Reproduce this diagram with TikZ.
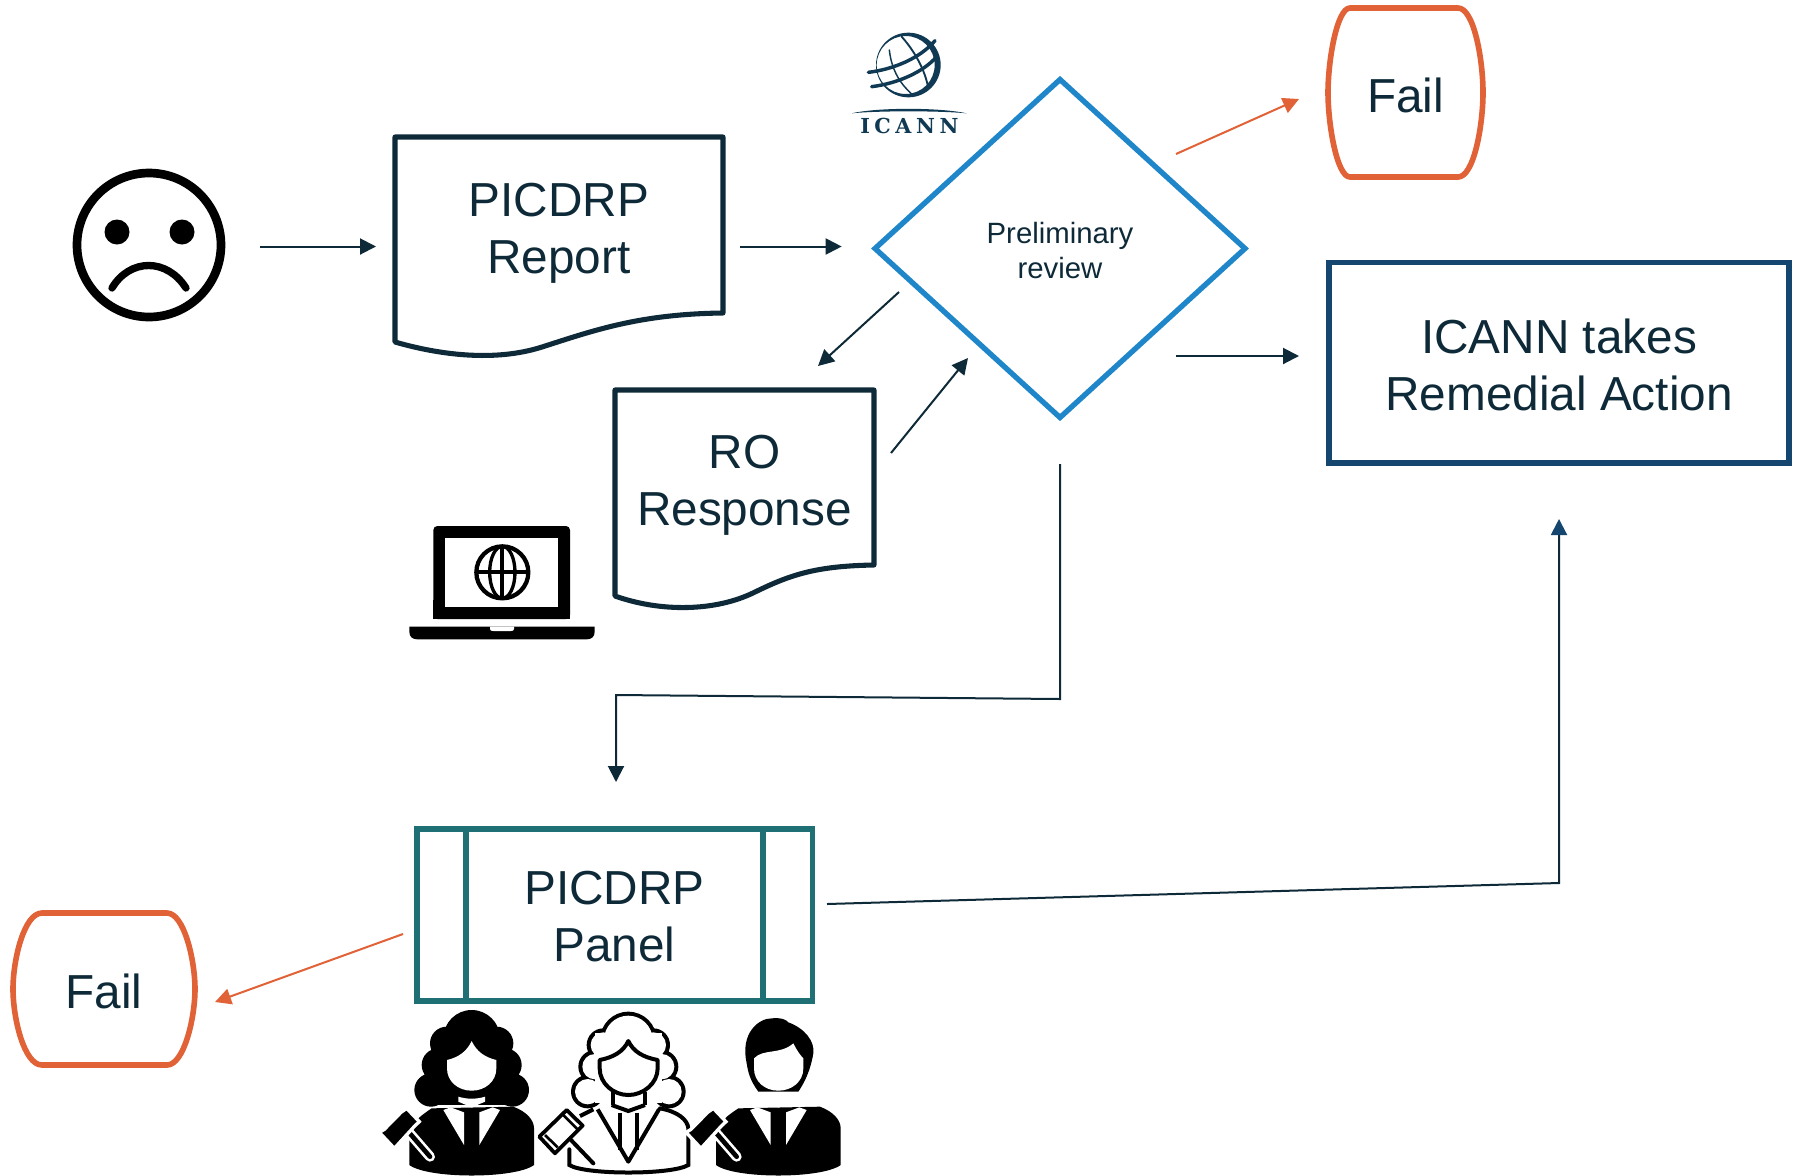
\documentclass[tikz,border=0pt]{standalone}
\usepackage{fontspec}
\setmainfont{Liberation Sans}
\newfontfamily\icannfont[LetterSpace=22]{DejaVu Serif}
\usetikzlibrary{arrows.meta,shapes.geometric,calc}
\definecolor{inkdark}{HTML}{0E2A38}
\definecolor{failorange}{HTML}{E06236}
\definecolor{diamondblue}{HTML}{1F87C9}
\definecolor{navybox}{HTML}{14466F}
\definecolor{panelteal}{HTML}{1F7075}
\definecolor{globeblue}{HTML}{103A54}
\newcommand\bigtext{\fontsize{35.8}{42.8}\selectfont}
\newcommand\raisedlines[3]{\raisebox{#1}[0pt][0pt]{\begin{tabular}{@{}c@{}}#2\\#3\end{tabular}}}
% judge parts, local x relative to the axis, y in zoomed px
\newcommand\curlset[1]{%
  \fill[#1] (0,175+\hs) circle[radius=85-\hd]
   (-75,190+\hs) circle[radius=50-\hd] (75,190+\hs) circle[radius=50-\hd]
   (-100,255+\hs) circle[radius=50-\hd] (100,255+\hs) circle[radius=50-\hd]
   (-122,330+\hs) circle[radius=50-\hd] (122,330+\hs) circle[radius=50-\hd];}
\newcommand\facepath{(-74,240) .. controls (-40,232) and (-15,215) .. (0,183) .. controls (15,215) and (40,232) .. (74,240) -- (74,265) .. controls (74,305) and (40,332) .. (0,332) .. controls (-40,332) and (-74,305) .. (-74,265) -- cycle}
\newcommand\bodypath{(-187,555) -- (-187,470) .. controls (-187,430) and (-150,405) .. (-120,385) -- (125,380) .. controls (165,395) and (187,420) .. (187,445) -- (187,555) .. controls (130,597) and (-130,597) .. (-187,555) -- cycle}
\newcommand\lapels{\fill[white] (-85,390) -- (-63,382) -- (-23,397) -- (-23,495) -- cycle (85,390) -- (63,382) -- (23,397) -- (23,495) -- cycle;
  \fill[white] (-40,350) .. controls (-15,358) and (15,358) .. (40,350) -- (40,365) -- (0,382) -- (-40,365) -- cycle;}
\newcommand\solidgavel{%
  \draw[white,line width=7.5pt,line cap=round] (-190,455) -- (-125,530);
  \draw[black,line width=3.5pt,line cap=round] (-190,455) -- (-125,530);
  \draw[white,line width=2.5pt,fill=black,line join=miter] (-212,397) -- (-195,385) -- (-157,425) -- (-170,437) -- (-232,505) -- (-277,457) -- (-262,448) -- cycle;}
\begin{document}
\begin{tikzpicture}[x=0.75pt,y=-0.75pt,
  flow/.style={line width=1.5pt,inkdark,-{Triangle[length=12pt,width=12pt]}},
  flowred/.style={line width=1.5pt,failorange,-{Triangle[length=12pt,width=12pt]}},
  flownavy/.style={line width=1.5pt,inkdark,-{Triangle[length=12pt,width=12pt,color=navybox,fill=navybox]}},
  bigbox/.style={rectangle,inner sep=0pt,outer sep=0pt,align=center,text=inkdark,font=\bigtext},
  docline/.style={line width=3.8pt,inkdark,line join=round},
  failline/.style={line width=4.2pt,failorange,line join=round}]
\fill[white] (0,0) rectangle (1801,1175);
\useasboundingbox (0,0) rectangle (1801,1175);

% sad face
\node[circle,draw=black,line width=6.5pt,minimum size=108pt,inner sep=0pt,outer sep=0pt] (face) at (149,245) {};
\fill[black] (117,232) circle[radius=12.5] (182,232) circle[radius=12.5];
\draw[black,line width=5.5pt,line cap=round] (112,288) .. controls (130,258) and (167,258) .. (186,288);

% PICDRP report
\node[bigbox,minimum width=247.5pt,minimum height=164pt] (report) at (559,246.5) {\raisedlines{3.8pt}{PICDRP}{Report}};
\draw[docline] (723,313) -- (723,137) -- (395,137) -- (395,342) .. controls (440,355) and (495,362) .. (542,347) .. controls (595,330) and (640,314) .. (723,313) -- cycle;

% Preliminary review
\node[diamond,draw=diamondblue,line width=4pt,aspect=1.094,minimum width=277.5pt,minimum height=253.5pt,inner sep=0pt,outer sep=0pt,align=center,text=inkdark,font=\fontsize{22}{26}\selectfont] (review) at (1060,248.5) {\raisedlines{-9.4pt}{Preliminary}{review}};

% ICANN logo
\begin{scope}[shift={(830,0)},x=.25pt,y=-.25pt]
\fill[globeblue,even odd rule] (235,195) circle[radius=97] (227,195) circle[radius=87];
\draw[globeblue,line width=2.6pt,line cap=round] (115,217) .. controls (190,208) and (270,175) .. (315,122);
\draw[globeblue,line width=2.6pt,line cap=round] (125,260) .. controls (205,250) and (280,215) .. (318,172);
\draw[globeblue,line width=1.1pt,line cap=round] (178,150) .. controls (185,215) and (215,255) .. (245,282);
\draw[globeblue,line width=1.4pt,line cap=round] (215,110) .. controls (255,155) and (285,210) .. (295,265);
\fill[globeblue] (65,340) .. controls (140,322) and (330,322) .. (410,340) .. controls (330,332) and (140,332) .. (65,340) -- cycle;
\node[inner sep=0pt,text=globeblue] (icannlogo) at (238,378) {\icannfont\bfseries\fontsize{15.5}{16}\selectfont ICANN};
\end{scope}

% Fail top
\node[bigbox,minimum width=116pt,minimum height=127pt] (failtop) at (1405.5,95) {Fail};
\draw[failline] (1350,8) -- (1458,8) .. controls (1474,8) and (1483,60) .. (1483,92.5) .. controls (1483,125) and (1474,177) .. (1458,177) -- (1350,177) .. controls (1337,177) and (1328,125) .. (1328,92.5) .. controls (1328,60) and (1337,8) .. (1350,8) -- cycle;

% ICANN remedial action
\node[bigbox,draw=navybox,line width=4pt,minimum width=345pt,minimum height=150.5pt] (remedial) at (1559,362.5) {\raisedlines{-12.1pt}{ICANN takes}{Remedial Action}};

% RO response
\node[bigbox,minimum width=196pt,minimum height=163pt] (response) at (744.5,497.5) {\raisedlines{3pt}{RO}{Response}};
\draw[docline] (874,565) -- (874,390) -- (615,390) -- (615,596) .. controls (660,612) and (715,612) .. (755,592) .. controls (790,575) and (815,566) .. (874,565) -- cycle;

% laptop
\begin{scope}[shift={(390,500)},x=.25pt,y=-.25pt]
\coordinate (laptopc) at (337,217);
\fill[black,rounded corners=3pt] (130,357) -- (130,78) -- (540,78) -- (540,357) -- cycle;
\fill[black] (130,300) rectangle (540,357);
\fill[white] (165,115) rectangle (505,320);
\draw[black,line width=3.2pt] (laptopc) circle[radius=78];
\draw[black,line width=2.5pt] (laptopc) circle[x radius=38,y radius=78];
\draw[black,line width=2.8pt] (259,217) -- (415,217) (337,139) -- (337,295);
\fill[black] (58,380) -- (614,380) -- (614,395) .. controls (614,410) and (605,418) .. (590,418) -- (82,418) .. controls (67,418) and (58,410) .. (58,395) -- cycle;
\fill[white] (300,380) -- (372,380) -- (372,387) .. controls (372,392) and (368,393) .. (362,393) -- (310,393) .. controls (304,393) and (300,392) .. (300,387) -- cycle;
\end{scope}

% PICDRP panel
\node[bigbox,draw=panelteal,line width=4pt,minimum width=296.5pt,minimum height=129pt] (panel) at (614.5,915) {\raisedlines{-11pt}{PICDRP}{Panel}};
\draw[panelteal,line width=4pt] (466,829) -- (466,1001) (763,829) -- (763,1001);

% Fail bottom
\node[bigbox,minimum width=136pt,minimum height=114pt] (failbottom) at (104,991.3) {Fail};
\draw[failline] (42,913) -- (167,913) .. controls (184,913) and (195,960) .. (195,989) .. controls (195,1018) and (184,1065) .. (167,1065) -- (42,1065) .. controls (24,1065) and (13,1018) .. (13,989) .. controls (13,960) and (24,913) .. (42,913) -- cycle;

% judges
\begin{scope}[shift={(471.67,980)},x=.25pt,y=-.25pt]
\def\hs{0}\def\hd{0}
\curlset{black}
\fill[black] (-100,150) rectangle (100,375);
\fill[black] \bodypath;
\lapels
\fill[white] \facepath;
\solidgavel
\end{scope}

\begin{scope}[shift={(628.33,980)},x=.25pt,y=-.25pt]
\def\hs{5}\def\hd{0}
\curlset{black}
\def\hd{12}
\curlset{white}
\fill[white] (-100,160) rectangle (100,370);
\draw[black,line width=3pt,line cap=round] (-177,508) -- (-177,555) .. controls (-130,585) and (130,585) .. (180,555) -- (180,445) .. controls (178,420) and (150,395) .. (95,385);
\draw[black,line width=3pt] (-145,408) -- (-105,388);
\draw[black,line width=3pt,line join=round] (-92,388) -- (0,545) -- (92,388);
\draw[black,line width=3pt] (-25,398) -- (-25,510) (25,398) -- (25,510);
\draw[black,line width=3pt] (-50,375) -- (0,393) -- (50,375);
\draw[black,line width=3pt] (-45,335) -- (-45,375) (50,335) -- (50,375);
\draw[black,line width=3pt,fill=white,line join=round] (-86,240) .. controls (-45,232) and (-15,215) .. (0,183) .. controls (15,215) and (45,232) .. (88,240) -- (88,265) .. controls (88,310) and (45,345) .. (0,345) .. controls (-45,345) and (-86,310) .. (-86,265) -- cycle;
\draw[black,line width=3pt,line cap=round] (-172,480) -- (-105,550);
\draw[black,line width=2.8pt,fill=white,line join=round] (-185,390) -- (-137,437) -- (-220,520) -- (-267,470) -- cycle;
\draw[black,line width=2pt] (-250,465) -- (-212,502) (-195,405) -- (-152,448);
\end{scope}

\begin{scope}[shift={(778.33,980)},x=.25pt,y=-.25pt]
\fill[black] (-95,250) .. controls (-115,160) and (-60,115) .. (-20,115) .. controls (10,112) and (25,120) .. (30,127) .. controls (80,145) and (110,185) .. (105,220) .. controls (100,250) and (90,290) .. (60,335) -- (-60,335) .. controls (-85,300) and (-90,280) .. (-95,250) -- cycle;
\fill[black] \bodypath;
\lapels
\fill[white] (-73,235) .. controls (-45,205) and (5,225) .. (45,190) .. controls (55,210) and (65,225) .. (75,235) -- (75,265) .. controls (75,305) and (40,332) .. (0,332) .. controls (-40,332) and (-73,305) .. (-73,265) -- cycle;
\solidgavel
\end{scope}

% connectors
\coordinate (diamondToFailStart) at (1176,154);
\coordinate (diamondToFailEnd) at (1299,99);
\coordinate (diamondToRemedialStart) at (1176,356);
\coordinate (diamondToRemedialEnd) at (1299,356);
\coordinate (diamondToResponseStart) at (899,292);
\coordinate (diamondToResponseEnd) at (818,366);
\coordinate (responseToDiamondStart) at (891,453);
\coordinate (responseToDiamondEnd) at (968,358);
\coordinate (reviewDownStart) at (1060,464);
\coordinate (reviewDownA) at (1060,699);
\coordinate (reviewDownB) at (616,695);
\coordinate (reviewDownEnd) at (616,782);
\coordinate (panelOutStart) at (827,904);
\coordinate (panelOutBend) at (1559,883);
\coordinate (panelOutEnd) at (1559,519);
\coordinate (panelFailStart) at (403,934);
\coordinate (panelFailEnd) at (215,1002);
\draw[flow,shorten <=29pt,shorten >=13.5pt] (face.east |- report.west) -- (report.west);
\draw[flow,shorten <=12pt,shorten >=25pt] (report.east) -- (report.east -| review.west);
\draw[flowred] (diamondToFailStart) -- (diamondToFailEnd);
\draw[flow] (diamondToRemedialStart) -- (diamondToRemedialEnd);
\draw[flow] (diamondToResponseStart) -- (diamondToResponseEnd);
\draw[flow] (responseToDiamondStart) -- (responseToDiamondEnd);
\draw[flow] (reviewDownStart) -- (reviewDownA) -- (reviewDownB) -- (reviewDownEnd);
\draw[flownavy] (panelOutStart) -- (panelOutBend) -- (panelOutEnd);
\draw[flowred] (panelFailStart) -- (panelFailEnd);
\end{tikzpicture}
\end{document}
